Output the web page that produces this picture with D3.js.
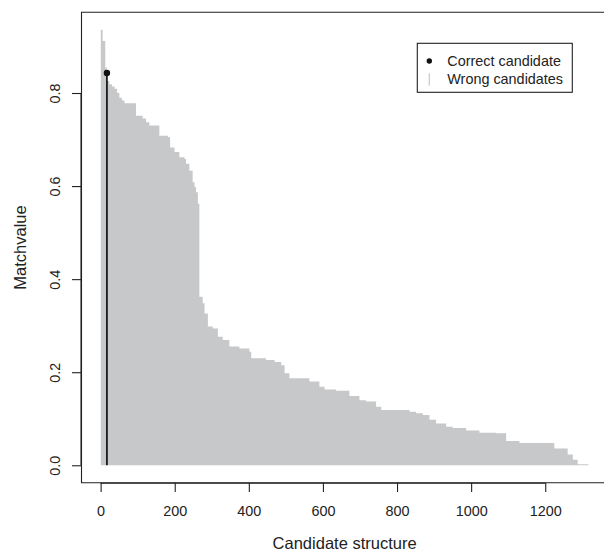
<!DOCTYPE html>
<html>
<head>
<meta charset="utf-8">
<script src="https://cdn.jsdelivr.net/npm/d3@7"></script>
<style>
  html, body { margin: 0; padding: 0; background: #fff; }
  svg { display: block; font-family: "Liberation Sans", Arial, sans-serif; }
</style>
</head>
<body>
<svg id="chart" width="604" height="552"></svg>
<script>
// ---- data ----
// step points of the sorted "wrong candidates" matchvalues: index where a level starts, and its value
const candidateIndex = [1, 6, 13, 17, 24, 31, 38, 45, 51, 58, 65, 96, 114, 123, 132, 159, 182, 188, 200, 213, 227, 231, 240, 249, 254, 258, 263,
  267, 276, 281, 290, 303, 317, 330, 348, 375, 402, 407, 447, 470, 488, 497, 510, 564, 591, 605, 636, 672, 699, 717, 744, 758,
  834, 852, 870, 888, 906, 933, 951, 987, 1023, 1068, 1095, 1131, 1225, 1261, 1275, 1288];
const matchValue = [0.936, 0.912, 0.855, 0.826, 0.819, 0.814, 0.809, 0.800, 0.790, 0.784, 0.778, 0.751, 0.745, 0.737, 0.730, 0.708, 0.705, 0.683, 0.673, 0.662, 0.658, 0.648, 0.633, 0.608, 0.598, 0.587, 0.562,
  0.362, 0.348, 0.326, 0.298, 0.294, 0.276, 0.269, 0.255, 0.251, 0.244, 0.230, 0.226, 0.222, 0.215, 0.198, 0.187, 0.180, 0.169, 0.163, 0.160, 0.149, 0.140, 0.137, 0.126, 0.119,
  0.115, 0.112, 0.108, 0.098, 0.090, 0.083, 0.080, 0.075, 0.070, 0.069, 0.052, 0.048, 0.036, 0.023, 0.012, 0.002];
const nCandidates = 1316;
const correctIndex = 17;
const correctValue = 0.843;

const xTicks = [0, 200, 400, 600, 800, 1000, 1200];
const yTicks = [0.0, 0.2, 0.4, 0.6, 0.8];
const legendLabels = ["Correct candidate", "Wrong candidates"];
const xTitle = "Candidate structure";
const yTitle = "Matchvalue";

// ---- layout ----
const plot = { left: 81.5, top: 12.3, bottom: 482.7, right: 607.7 };
const grey = "#c7c8ca";

const xr = nCandidates - 1;
const x = d3.scaleLinear()
  .domain([1 - 0.04 * xr, nCandidates + 0.04 * xr])
  .range([plot.left, plot.right]);
const yMax = d3.max(matchValue);
const y = d3.scaleLinear()
  .domain([0 - 0.04 * yMax, yMax + 0.04 * yMax])
  .range([plot.bottom, plot.top]);

const svg = d3.select("#chart");

// wrong candidates as a filled staircase (union of vertical grey lines)
const pts = candidateIndex.map((c, i) => ({ i: c - 0.5, v: matchValue[i] }));
pts.push({ i: nCandidates + 0.5, v: matchValue[matchValue.length - 1] });
const area = d3.area()
  .curve(d3.curveStepAfter)
  .x(d => x(d.i))
  .y0(y(0))
  .y1(d => y(d.v));
svg.append("path")
  .attr("d", area(pts))
  .attr("fill", grey)
  .attr("stroke", "none");

// correct candidate
svg.append("line")
  .attr("x1", x(correctIndex)).attr("x2", x(correctIndex))
  .attr("y1", y(0)).attr("y2", y(correctValue))
  .attr("stroke", "#111").attr("stroke-width", 1.7);
svg.append("circle")
  .attr("cx", x(correctIndex)).attr("cy", y(correctValue))
  .attr("r", 3.2).attr("fill", "#111");

// box (right edge falls outside the picture)
svg.append("path")
  .attr("d", `M${plot.right},${plot.top}H${plot.left}V${plot.bottom}H${plot.right}`)
  .attr("fill", "none").attr("stroke", "#222").attr("stroke-width", 1.1);

// axes
const xAxis = d3.axisBottom(x).tickValues(xTicks).tickSize(9.3).tickPadding(12).tickFormat(d3.format("d"));
const gx = svg.append("g").attr("transform", `translate(0,${plot.bottom})`).call(xAxis);
gx.select(".domain").attr("d", `M${x(xTicks[0])},0.5H${x(xTicks[xTicks.length - 1])}`).attr("stroke", "#222").attr("stroke-width", 1.1);
gx.selectAll(".tick line").attr("stroke", "#222").attr("stroke-width", 1.1);
gx.selectAll(".tick text").attr("font-size", "14.4px").attr("font-family", "Liberation Sans, Arial, sans-serif").attr("fill", "#222")
  .attr("dy", null).attr("y", 33.6);

const yAxis = d3.axisLeft(y).tickValues(yTicks).tickSize(9.5).tickFormat(d3.format(".1f"));
const gy = svg.append("g").attr("transform", `translate(${plot.left},0)`).call(yAxis);
gy.select(".domain").attr("d", `M-0.5,${y(yTicks[0])}V${y(yTicks[yTicks.length - 1])}`).attr("stroke", "#222").attr("stroke-width", 1.1);
gy.selectAll(".tick line").attr("stroke", "#222").attr("stroke-width", 1.1);
gy.selectAll(".tick text")
  .attr("font-size", "14.4px").attr("font-family", "Liberation Sans, Arial, sans-serif").attr("fill", "#222")
  .attr("x", null).attr("dy", null).attr("text-anchor", "middle")
  .attr("transform", `translate(${59.5 - plot.left},0) rotate(-90)`);

// axis titles
svg.append("text")
  .attr("x", (plot.left + plot.right) / 2).attr("y", 548.5)
  .attr("text-anchor", "middle").attr("font-size", "16.5px").attr("fill", "#222")
  .text(xTitle);
svg.append("text")
  .attr("transform", `translate(25.5,${(plot.top + plot.bottom) / 2}) rotate(-90)`)
  .attr("text-anchor", "middle").attr("font-size", "16.5px").attr("fill", "#222")
  .text(yTitle);

// legend
const lg = svg.append("g");
lg.append("rect")
  .attr("x", 417.3).attr("y", 43.3).attr("width", 155).attr("height", 49)
  .attr("fill", "#fff").attr("stroke", "#222").attr("stroke-width", 1.1);
lg.append("circle").attr("cx", 429.3).attr("cy", 61).attr("r", 2.7).attr("fill", "#111");
lg.append("line").attr("x1", 429.3).attr("x2", 429.3).attr("y1", 73.3).attr("y2", 85.7)
  .attr("stroke", grey).attr("stroke-width", 1.2);
lg.selectAll("text.lab").data(legendLabels).enter().append("text")
  .attr("class", "lab")
  .attr("x", 447.3).attr("y", (d, i) => 66.2 + i * 18.2)
  .attr("font-size", "14.4px").attr("fill", "#222")
  .text(d => d);
</script>
</body>
</html>
